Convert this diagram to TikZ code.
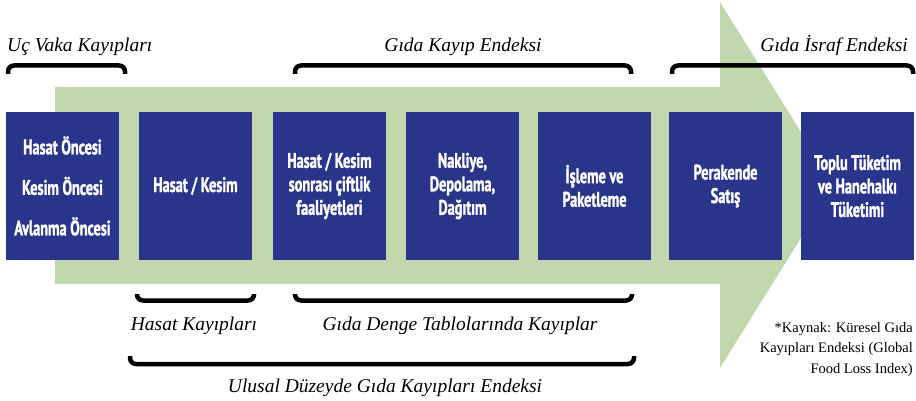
\documentclass[tikz,border=0pt]{standalone}
\usepackage{fontspec}
\setmainfont{Liberation Serif}
\newfontfamily\boxfont{PT Sans}[FakeStretch=0.68,FakeBold=1.4]
\definecolor{stageblue}{RGB}{41,52,139}
\definecolor{flowgreen}{RGB}{193,216,174}
\tikzset{
  stage/.style={fill=stageblue, text=white, minimum width=113pt, minimum height=148pt,
    inner sep=0pt, align=center, font=\boxfont\bfseries\fontsize{21}{23.5}\selectfont},
  brace/.style={line width=4.5pt, rounded corners=6pt, black},
  lab/.style={font=\itshape\fontsize{19.5}{21}\selectfont, inner sep=0pt},
  note/.style={font=\fontsize{14.5}{20.5}\selectfont, inner sep=0pt, align=right}
}
\begin{document}
\begin{tikzpicture}[x=1pt,y=-1pt]
\useasboundingbox (0,0) rectangle (916,401);
% flow arrow behind the stages
\fill[flowgreen] (55,87) -- (720,87) -- (720,2) -- (834,185) -- (720,368) -- (720,284) -- (55,284) -- cycle;
% supply chain stages
\node[stage] (s1) at (62.5,186) {Hasat Öncesi\\[17pt]Kesim Öncesi\\[17pt]Avlanma Öncesi};
\node[stage] (s2) at (195.5,186) {Hasat / Kesim};
\node[stage] (s3) at (329.5,186) {Hasat / Kesim\\sonrası çiftlik\\faaliyetleri};
\node[stage] (s4) at (462.5,186) {Nakliye,\\Depolama,\\Dağıtım};
\node[stage] (s5) at (594.5,186) {İşleme ve\\Paketleme};
\node[stage] (s6) at (725.5,186) {Perakende\\Satış};
\node[stage] (s7) at (857.5,186) {Toplu Tüketim\\ve Hanehalkı\\Tüketimi};
% brackets above
\draw[brace] (8,74) -- (8,65.5) -- (125,65.5) -- (125,74);
\draw[brace] (295,74) -- (295,65.5) -- (631,65.5) -- (631,74);
\draw[brace] (672,74) -- (672,65.5) -- (913,65.5) -- (913,74);
% brackets below
\draw[brace] (137,294) -- (137,300.5) -- (254,300.5) -- (254,294);
\draw[brace] (295,294) -- (295,300.5) -- (632,300.5) -- (632,294);
\draw[brace] (130,356) -- (130,364) -- (634,364) -- (634,356);
% labels
\node[lab, anchor=base west] (t1) at (7,52) {Uç Vaka Kayıpları};
\node[lab, anchor=base] (t2) at (463,52) {Gıda Kayıp Endeksi};
\node[lab, anchor=base east] (t3) at (908,52) {Gıda İsraf Endeksi};
\node[lab, anchor=base] (b1) at (194,330) {Hasat Kayıpları};
\node[lab, anchor=base] (b2) at (460,330) {Gıda Denge Tablolarında Kayıplar};
\node[lab, anchor=base] (b3) at (385,392) {Ulusal Düzeyde Gıda Kayıpları Endeksi};
% source note
\node[note, anchor=north east] (src) at (913,322) {*Kaynak: Küresel Gıda\\Kayıpları Endeksi (Global\\Food Loss Index)};
\end{tikzpicture}
\end{document}
